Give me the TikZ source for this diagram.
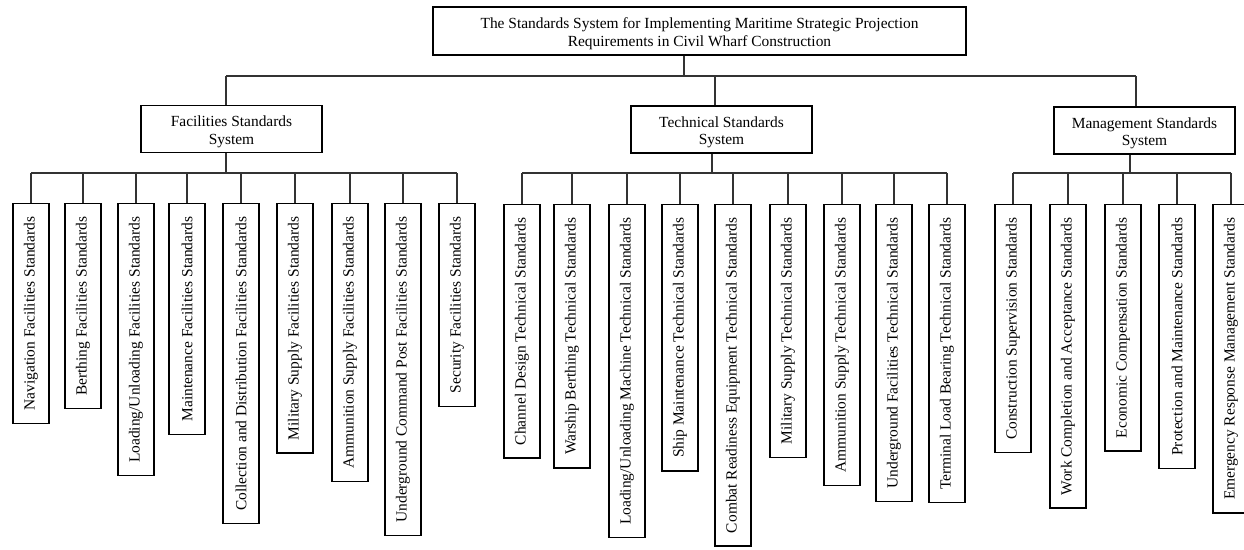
\documentclass[tikz,border=0pt]{standalone}
\usepackage{fontspec}
\setmainfont{Liberation Serif}
\newcommand{\twoline}[2]{\raisebox{0pt}[\dimexpr\height+6bp\relax][\depth]{\begin{tabular}{@{}c@{}}#1\\#2\end{tabular}}}
\begin{document}
\begin{tikzpicture}[x=1bp,y=-1bp,
  txt/.style={font=\fontsize{15.5}{17.5}\selectfont},
  box/.style={draw=black, line width=1.2bp, align=center, inner sep=0pt, txt},
  leaf/.style={draw=black, line width=1.2bp, rotate=90, anchor=east, minimum height=36bp, inner xsep=13bp, inner ysep=0pt, txt},
  conn/.style={line width=1.4bp, draw=black!80}]
\useasboundingbox (0,0) rectangle (1244,550);
\clip (0,0) rectangle (1244,550);

% top
\node[box, minimum width=533bp, minimum height=48bp] (top) at (699.5,31)
  {\twoline{The Standards System for Implementing Maritime Strategic Projection}{Requirements in Civil Wharf Construction}};

% level 2
\node[box, minimum width=181bp, minimum height=47bp] (fac) at (231.5,129) {\twoline{Facilities Standards}{System}};
\node[box, minimum width=181bp, minimum height=47bp] (tec) at (721.5,129.5) {\twoline{Technical Standards}{System}};
\node[box, minimum width=181bp, minimum height=47bp] (man) at (1144.5,130.5) {\twoline{Management Standards}{System}};

% coordinates for buses and drops
\coordinate (mbus) at (0,76);
\coordinate (lbus) at (0,173);
\coordinate (tx) at (684,0);
\coordinate (fxu) at (226,0);
\coordinate (fxd) at (226,0);
\coordinate (txu) at (715,0);
\coordinate (txd) at (712,0);
\coordinate (mxu) at (1136,0);
\coordinate (mxd) at (1130,0);

% facilities leaves
\node[leaf] (F1) at (31,203) {Navigation Facilities Standards};
\node[leaf] (F2) at (83,203) {Berthing Facilities Standards};
\node[leaf] (F3) at (136,203) {Loading/Unloading Facilities Standards};
\node[leaf] (F4) at (187,203) {Maintenance Facilities Standards};
\node[leaf] (F5) at (241,203) {Collection and Distribution Facilities Standards};
\node[leaf] (F6) at (295,203) {Military Supply Facilities Standards};
\node[leaf] (F7) at (350,203) {Ammunition Supply Facilities Standards};
\node[leaf] (F8) at (403,203) {Underground Command Post Facilities Standards};
\node[leaf] (F9) at (457,203) {Security Facilities Standards};

% technical leaves
\node[leaf] (T1) at (522,204) {Channel Design Technical Standards};
\node[leaf] (T2) at (572,204) {Warship Berthing Technical Standards};
\node[leaf] (T3) at (627,204) {Loading/Unloading Machine Technical Standards};
\node[leaf] (T4) at (680,204) {Ship Maintenance Technical Standards};
\node[leaf] (T5) at (733,204) {Combat Readiness Equipment Technical Standards};
\node[leaf] (T6) at (788,204) {Military Supply Technical Standards};
\node[leaf] (T7) at (842,204) {Ammunition Supply Technical Standards};
\node[leaf] (T8) at (894,204) {Underground Facilities Technical Standards};
\node[leaf] (T9) at (947,204) {Terminal Load Bearing Technical Standards};

% management leaves
\node[leaf] (M1) at (1013,204) {Construction Supervision Standards};
\node[leaf] (M2) at (1068,204) {Work Completion and Acceptance Standards};
\node[leaf] (M3) at (1123,204) {Economic Compensation Standards};
\node[leaf] (M4) at (1177,204) {Protection and Maintenance Standards};
\node[leaf] (M5) at (1231,204) {Emergency Response Management Standards};

% top-level connectors
\draw[conn] (top.south -| tx) -- (tx |- mbus);
\draw[conn] (fxu |- mbus) -- (mxu |- mbus);
\draw[conn] (fxu |- mbus) -- (fac.north -| fxu);
\draw[conn] (txu |- mbus) -- (tec.north -| txu);
\draw[conn] (mxu |- mbus) -- (man.north -| mxu);

% level-2 drops
\draw[conn] (fac.south -| fxd) -- (fxd |- lbus);
\draw[conn] (tec.south -| txd) -- (txd |- lbus);
\draw[conn] (man.south -| mxd) -- (mxd |- lbus);

% leaf buses
\draw[conn] (F1.east |- lbus) -- (F9.east |- lbus);
\draw[conn] (T1.east |- lbus) -- (T9.east |- lbus);
\draw[conn] (M1.east |- lbus) -- (M5.east |- lbus);

% leaf drops
\foreach \n in {F1,F2,F3,F4,F5,F6,F7,F8,F9,T1,T2,T3,T4,T5,T6,T7,T8,T9,M1,M2,M3,M4,M5}
  \draw[conn] (\n.east |- lbus) -- (\n.east);
\end{tikzpicture}
\end{document}
